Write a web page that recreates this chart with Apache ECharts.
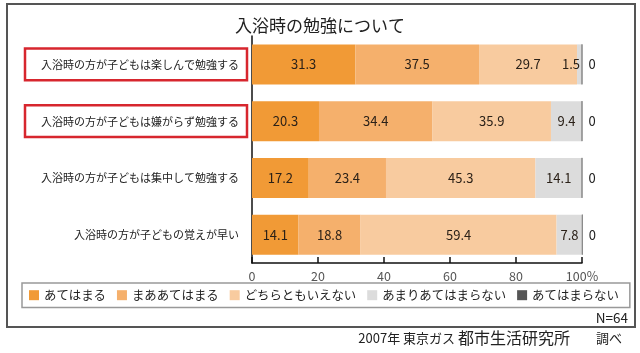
<!DOCTYPE html>
<html>
<head>
<meta charset="utf-8">
<script src="https://cdn.jsdelivr.net/npm/echarts@6/dist/echarts.min.js"></script>
<style>
  html, body { margin: 0; padding: 0; background: #fff; }
  #chart { width: 640px; height: 353px; }
</style>
</head>
<body>
<div id="chart"></div>
<script>
var categories = [
    '入浴時の方が子どもは楽しんで勉強する',
    '入浴時の方が子どもは嫌がらず勉強する',
    '入浴時の方が子どもは集中して勉強する',
    '入浴時の方が子どもの覚えが早い'
];
var highlighted = [
    '入浴時の方が子どもは楽しんで勉強する',
    '入浴時の方が子どもは嫌がらず勉強する'
];
var seriesNames = ['あてはまる', 'まああてはまる', 'どちらともいえない', 'あまりあてはまらない', 'あてはまらない'];
var ateHamaru = [31.3, 20.3, 17.2, 14.1];
var maaAteHamaru = [37.5, 34.4, 23.4, 18.8];
var dochiraTomo = [29.7, 35.9, 45.3, 59.4];
var amariAteHamaranai = [1.5, 9.4, 14.1, 7.8];
var ateHamaranai = [0, 0, 0, 0];
var xTicks = [0, 20, 40, 60, 80, 100];
var colors = ['#f19a36', '#f5b06c', '#f8cb9f', '#dcdcdc', '#555555'];

var font = '"Noto Sans CJK JP", "Noto Sans", sans-serif';

function segData(values) {
    return values.map(function (v) {
        if (v > 0 && v < 3) {
            return { value: v, label: { position: 'insideRight', distance: 2 } };
        }
        return v;
    });
}

var allValues = [ateHamaru, maaAteHamaru, dochiraTomo, amariAteHamaranai];
var series = allValues.map(function (vals, i) {
    return {
        name: seriesNames[i],
        type: 'bar',
        stack: 'total',
        barWidth: 40,
        clip: false,
        data: segData(vals),
        itemStyle: { color: colors[i] },
        label: {
            show: true,
            position: 'inside',
            color: '#2b2118',
            fontSize: 13,
            fontFamily: font
        },
        emphasis: { disabled: true }
    };
});
series.push({
    name: seriesNames[4],
    type: 'bar',
    stack: 'total',
    barWidth: 40,
    clip: false,
    data: ateHamaranai,
    itemStyle: { color: colors[4], borderColor: '#888', borderWidth: 1 },
    label: {
        show: true,
        position: 'right',
        distance: 6,
        color: '#222',
        fontSize: 13,
        fontFamily: font
    },
    emphasis: { disabled: true }
});

var myChart = echarts.init(document.getElementById('chart'));
var option = {
    animation: false,
    title: {
        text: '入浴時の勉強について',
        left: 'center',
        top: 12,
        textStyle: { fontSize: 17, fontWeight: 'normal', color: '#222', fontFamily: font }
    },
    grid: { left: 252, right: 58, top: 36, bottom: 90 },
    legend: {
        data: seriesNames.map(function (n) {
            return { name: n, icon: 'rect', itemStyle: { borderWidth: 0 } };
        }),
        left: 22,
        top: 283,
        width: 610,
        itemWidth: 10,
        itemHeight: 10,
        itemGap: 11,
        padding: [6, 11, 6, 7],
        borderColor: '#999',
        borderWidth: 1.5,
        selectedMode: false,
        textStyle: { fontSize: 12.4, color: '#222', fontFamily: font }
    },
    xAxis: {
        type: 'value',
        min: xTicks[0],
        max: xTicks[xTicks.length - 1],
        interval: xTicks[1] - xTicks[0],
        axisLine: { show: true, lineStyle: { color: '#111', width: 1.5 } },
        axisTick: { show: true, inside: true, length: 6, lineStyle: { color: '#111', width: 1.5 } },
        splitLine: { show: false },
        axisLabel: {
            margin: 7,
            color: '#555',
            fontSize: 12.5,
            fontFamily: font,
            formatter: function (v) { return v === 100 ? '100%' : String(v); }
        }
    },
    yAxis: {
        type: 'category',
        inverse: true,
        data: categories,
        axisLine: { show: true, lineStyle: { color: '#111', width: 1.5 } },
        axisTick: { show: false },
        axisLabel: {
            margin: 5,
            formatter: function (v) {
                return highlighted.indexOf(v) >= 0 ? '{hl|' + v + '}' : '{n|' + v + '}';
            },
            rich: {
                hl: {
                    fontSize: 11,
                    color: '#222',
                    fontFamily: font,
                    width: 206,
                    align: 'right',
                    padding: [11, 8, 10, 8],
                    borderColor: '#d7262e',
                    borderWidth: 2.5
                },
                n: {
                    fontSize: 11,
                    color: '#222',
                    fontFamily: font,
                    padding: [0, 8]
                }
            }
        }
    },
    graphic: [
        {
            type: 'rect',
            z: -1,
            shape: { x: 7, y: 4, width: 628, height: 323 },
            style: { fill: 'none', stroke: '#555', lineWidth: 2 }
        },
        {
            type: 'text',
            right: 12,
            top: 311,
            style: { text: 'N=64', fontSize: 13.5, fill: '#222', fontFamily: font }
        },
        {
            type: 'text',
            right: 18,
            top: 330,
            style: {
                text: '{a|2007年 東京ガス }{b|都市生活研究所}{a|　　調べ}',
                fontFamily: font,
                rich: {
                    a: { fontSize: 13, fill: '#222', fontFamily: font },
                    b: { fontSize: 16, fill: '#222', fontFamily: font }
                }
            }
        }
    ],
    series: series
};
myChart.setOption(option);
</script>
</body>
</html>
